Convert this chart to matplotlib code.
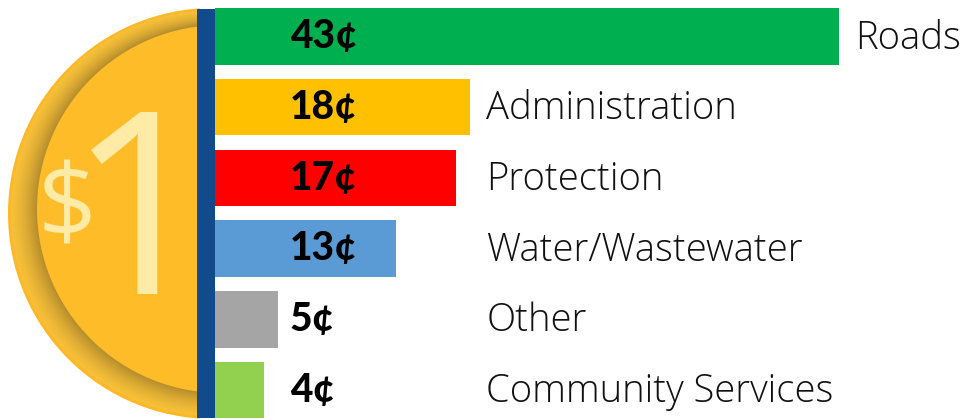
import numpy as np
import matplotlib
matplotlib.use("Agg")
import matplotlib.pyplot as plt
from matplotlib.patches import Ellipse, Rectangle

# 類別 / 數值 (單位: 分)
categories = ["Roads", "Administration", "Protection", "Water/Wastewater", "Other", "Community Services"]
cents = [43, 17.6, 16.6, 12.5, 4.35, 3.4]
value_labels = ["43¢", "18¢", "17¢", "13¢", "5¢", "4¢"]
bar_colors = ["#00B050", "#FFC000", "#FF0000", "#5B9BD5", "#A5A5A5", "#92D050"]

W, H = 962, 420
fig = plt.figure(figsize=(W / 100, H / 100), dpi=100)

# 硬幣 (像素座標)
ax = fig.add_axes([0, 0, 1, 1])
ax.set_xlim(0, W)
ax.set_ylim(H, 0)
ax.axis("off")

clip = Rectangle((0, 0), 200, H, transform=ax.transData)

n = 30
c1 = np.array(matplotlib.colors.to_rgb("#F7C038"))
c2 = np.array(matplotlib.colors.to_rgb("#B48C2C"))
e = ax.add_patch(Ellipse((213, 213.5), 410, 411, fc="#FDB827", ec="none"))
e.set_clip_path(clip)
for i in range(n):
    t = i / (n - 1)
    cx = 213 + (221 - 213) * (0.1 + 0.9 * t)
    cy = 213.5 + (209 - 213.5) * (0.1 + 0.9 * t)
    r = 203 + (184 - 203) * t
    e = ax.add_patch(Ellipse((cx, cy), 2 * r, 2 * r, fc=c1 + (c2 - c1) * t ** 1.5, ec="none"))
    e.set_clip_path(clip)
e = ax.add_patch(Ellipse((221, 209), 368, 368, fc="#FEBC29", ec="none"))
e.set_clip_path(clip)

ax.text(67, 238, "$", fontsize=74, color="#FFEAA6", family="Open Sans", ha="center", va="baseline")
ax.text(140, 294, "1", fontsize=183, color="#FFEAA6", family="Open Sans", ha="center", va="baseline")
ax.add_patch(Rectangle((197, 9), 18, 409, fc="#114B8C", ec="none"))

# 長條圖
px = 14.5
bx = fig.add_axes([215 / W, 0, (W - 215) / W, 1])
bx.set_xlim(0, (W - 215) / px)
bx.set_ylim((H - 36.5) / 70.7, -36.5 / 70.7)
bx.axis("off")
y = np.arange(len(categories))
bx.barh(y, cents, height=0.8, color=bar_colors)

for i in y:
    bx.text(5.15, i + 0.165, value_labels[i], fontsize=28, fontweight="black", family="Lato",
            color="black", va="baseline", ha="left")
    lx = 44.15 if i == 0 else 18.7
    bx.text(lx, i + 0.17, categories[i], fontsize=27.5, fontweight="light", family="Open Sans",
            color="#111111", va="baseline", ha="left")

plt.savefig("out.png", dpi=100)
